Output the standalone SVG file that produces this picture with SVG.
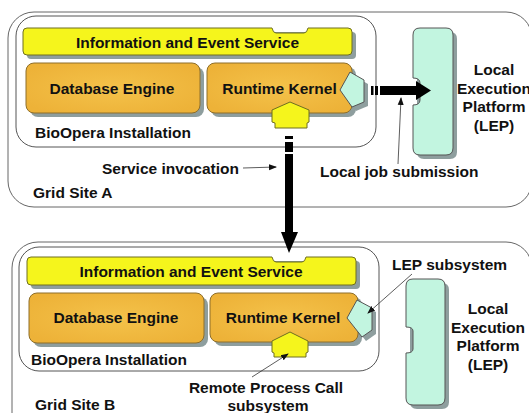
<svg xmlns="http://www.w3.org/2000/svg" width="529" height="413" viewBox="0 0 529 413">
<defs>
<radialGradient id="og" cx="50%" cy="50%" r="60%">
<stop offset="0" stop-color="#F4C24A"/>
<stop offset="1" stop-color="#EDB238"/>
</radialGradient>
<marker id="ah" markerWidth="8" markerHeight="8" refX="7" refY="4" orient="auto" markerUnits="userSpaceOnUse">
<path d="M0,1 L8,4 L0,7 Z" fill="#111"/>
</marker>
</defs>
<style>
.site{fill:#fff;stroke:#666;stroke-width:1}
.inst{fill:#fff;stroke:#555;stroke-width:1}
.sh{fill:#8E9E9E}
.ies{fill:#F5F51C;stroke:#6E6E20;stroke-width:1}
.orb{fill:url(#og);stroke:#8E6E2A;stroke-width:1}
.cy{fill:#C2F5E0;stroke:#555;stroke-width:1}
.yp{fill:#F5F51C;stroke:#6E6E20;stroke-width:1}
.t{font-family:"Liberation Sans",Arial,sans-serif;font-weight:bold;font-size:15.5px;fill:#111}
.m{text-anchor:middle}
.ptr{stroke:#333;stroke-width:0.8;fill:none;marker-end:url(#ah)}
.big{fill:#000}
</style>

<g id="siteA">
<rect class="site" x="8" y="12" width="524" height="195" rx="26"/>
<text class="t" x="33" y="198">Grid Site A</text>
</g>
<g id="siteB">
<rect class="site" x="12" y="242" width="520" height="200" rx="26"/>
<text class="t" x="35" y="410">Grid Site B</text>
</g>

<g id="installA">
<rect class="inst" x="16" y="16" width="360" height="131" rx="20"/>
<text class="t" x="35" y="138">BioOpera Installation</text>
</g>
<g id="installB">
<rect class="inst" x="19" y="247" width="360" height="124" rx="20"/>
<text class="t" x="31" y="365">BioOpera Installation</text>
</g>

<g id="iesA">
<path class="sh" transform="translate(4,4)" d="M27,28 H348 Q352,28 352,32 V51 Q352,55 348,55 H27 Q23,55 23,51 V32 Q23,28 27,28 Z"/>
<path class="ies" d="M27,28 H272 Q273,33 276,33 H304 Q307,33 308,28 H348 Q352,28 352,32 V51 Q352,55 348,55 H27 Q23,55 23,51 V32 Q23,28 27,28 Z"/>
<text class="t m" x="187.5" y="48">Information and Event Service</text>
</g>
<g id="iesB">
<path class="sh" transform="translate(4,4)" d="M31,257 H352 Q356,257 356,261 V281 Q356,285 352,285 H31 Q27,285 27,281 V261 Q27,257 31,257 Z"/>
<path class="ies" d="M31,257 H272 Q273,262 276,262 H302 Q305,262 306,257 H352 Q356,257 356,261 V281 Q356,285 352,285 H31 Q27,285 27,281 V261 Q27,257 31,257 Z"/>
<text class="t m" x="191" y="277">Information and Event Service</text>
</g>

<g id="dbA">
<rect class="sh" x="30" y="67" width="174" height="50" rx="8"/>
<rect class="orb" x="26" y="63" width="174" height="50" rx="8"/>
<text class="t m" x="112" y="94">Database Engine</text>
</g>
<g id="dbB">
<rect class="sh" x="33" y="297" width="175" height="50" rx="8"/>
<rect class="orb" x="29" y="293" width="175" height="50" rx="8"/>
<text class="t m" x="116" y="323">Database Engine</text>
</g>

<g id="rkA">
<rect class="sh" x="211" y="67" width="145" height="50" rx="8"/>
<rect class="orb" x="207" y="63" width="145" height="50" rx="8"/>
<text class="t m" x="279.5" y="94">Runtime Kernel</text>
</g>
<g id="rkB">
<rect class="sh" x="214" y="297" width="148" height="49" rx="8"/>
<rect class="orb" x="210" y="293" width="148" height="49" rx="8"/>
<text class="t m" x="283" y="323">Runtime Kernel</text>
</g>

<g id="lepSubA">
<polygon class="sh" transform="translate(4,4)" points="340,90 350,72 364,80 364,102 352,107"/>
<polygon class="cy" points="340,90 350,72 364,80 364,102 352,107"/>
</g>
<g id="lepSubB">
<polygon class="sh" transform="translate(4,4)" points="347,318 357,300 372,308 372,330 362,337"/>
<polygon class="cy" points="347,318 357,300 372,308 372,330 362,337"/>
</g>

<g id="rpcA">
<path class="yp" d="M290,102 L309,110 V122 L307,123 V128 H275 V123 L272,122 V110 Z"/>
</g>
<g id="rpcB">
<path class="yp" d="M290,332 L308,341 V352 L306,353 V357 H274 V353 L272,352 V341 Z"/>
</g>

<g id="lepA">
<path class="sh" transform="translate(4,4)" d="M420,28 H446 Q453,28 453,35 V148 Q453,155 446,155 H420 Q413,155 413,148 V35 Q413,28 420,28 Z"/>
<path class="cy" d="M420,28 H446 Q453,28 453,35 V148 Q453,155 446,155 H420 Q413,155 413,148 V105 Q420,105 420,100 V83 Q420,78 413,78 V35 Q413,28 420,28 Z"/>
<text class="t m" x="494" y="75">Local</text>
<text class="t m" x="494" y="94">Execution</text>
<text class="t m" x="494" y="112">Platform</text>
<text class="t m" x="494" y="131">(LEP)</text>
</g>
<g id="lepB">
<path class="sh" transform="translate(4,4)" d="M413,279 H438 Q445,279 445,286 V398 Q445,405 438,405 H413 Q406,405 406,398 V286 Q406,279 413,279 Z"/>
<path class="cy" d="M413,279 H438 Q445,279 445,286 V398 Q445,405 438,405 H413 Q406,405 406,398 V353 Q413,353 413,349 V331 Q413,327 406,327 V286 Q406,279 413,279 Z"/>
<text class="t m" x="488" y="314">Local</text>
<text class="t m" x="488" y="333">Execution</text>
<text class="t m" x="488" y="351">Platform</text>
<text class="t m" x="488" y="370">(LEP)</text>
</g>

<g id="connectors">
<rect class="big" x="371" y="86" width="2.5" height="9"/>
<rect class="big" x="375" y="86" width="3" height="9"/>
<path class="big" d="M380,86 H416 V81 L431,90.5 L416,100 V95 H380 Z"/>
<rect class="big" x="285" y="136" width="8" height="3"/>
<rect class="big" x="285" y="142" width="8" height="10"/>
<path class="big" d="M285,154 H293 V232 H298 L289,253 L281,232 H285 Z"/>
<path class="ptr" d="M398,164 L401,98"/>
<path class="ptr" d="M243,168 L276,167"/>
<path class="ptr" d="M412,274 L368,313"/>
<path class="ptr" d="M252,377 L288,354"/>
</g>

<g id="labels">
<text class="t" x="102" y="174">Service invocation</text>
<text class="t" x="320" y="177">Local job submission</text>
<text class="t" x="392" y="270">LEP subsystem</text>
<text class="t m" x="266" y="393">Remote Process Call</text>
<text class="t m" x="268" y="411">subsystem</text>
</g>
</svg>
